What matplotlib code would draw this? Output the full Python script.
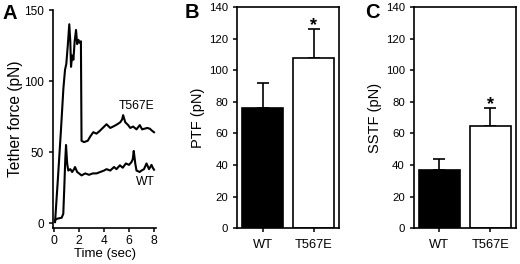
import matplotlib
matplotlib.use("Agg")
import matplotlib.pyplot as plt

plt.rcParams['font.family'] = ['Liberation Sans', 'DejaVu Sans']

# panel A traces (time in sec, force in pN)
t_t567e = [0.08, 0.3, 0.55, 0.75, 0.88, 0.98, 1.1, 1.22, 1.3, 1.36, 1.45, 1.55, 1.65, 1.76, 1.85,
           1.95, 2.05, 2.15, 2.2, 2.4, 2.7, 2.9, 3.14, 3.4, 3.67, 3.9, 4.2, 4.5, 4.73, 4.95, 5.13,
           5.3, 5.45, 5.53, 5.7, 5.93, 6.1, 6.33, 6.6, 6.86, 7.05, 7.26, 7.45, 7.66, 7.85, 8.0]
f_t567e = [0.7, 30, 65, 95, 108, 112, 125, 140, 128, 110, 118, 115, 128, 136, 126,
           129, 127, 128, 58, 57, 58, 61, 64, 63, 65, 67, 69.6, 67, 68, 69, 70,
           71, 73, 76, 71, 69, 67, 68, 66, 69, 66, 66.5, 67, 66.5, 65, 64]
t_wt = [0.08, 0.21, 0.45, 0.61, 0.74, 0.82, 0.9, 0.96, 1.05, 1.14, 1.3, 1.45, 1.6, 1.68, 1.85,
        2.0, 2.2, 2.5, 2.8, 3.1, 3.4, 3.7, 4.0, 4.2, 4.5, 4.8, 5.0, 5.27, 5.5, 5.75, 6.0,
        6.2, 6.3, 6.38, 6.5, 6.6, 6.85, 7.0, 7.2, 7.4, 7.6, 7.8, 7.9, 8.0]
f_wt = [2, 3, 3.5, 3.8, 6.6, 25, 45, 55, 42, 37, 38, 36, 38, 39.5, 36,
        35, 33.6, 35, 34, 35, 35, 36, 37, 38, 37, 39.5, 38, 40.7, 39, 42, 41,
        43, 45, 50.8, 42, 37, 36, 37, 38, 42, 38, 41, 39, 37.6]

groups = ["WT", "T567E"]
ptf_mean = [76, 108]
ptf_err = [16, 18]
sstf_mean = [37, 65]
sstf_err = [7, 11]

fig = plt.figure(figsize=(5.2, 2.64), dpi=100)

axA = fig.add_axes([0.102, 0.136, 0.198, 0.826])
axA.plot(t_t567e, f_t567e, color='black', lw=1.5)
axA.plot(t_wt, f_wt, color='black', lw=1.5)
axA.set_xlim(-0.08, 8.16)
axA.set_ylim(-3.5, 150)
axA.set_xticks([0, 2, 4, 6, 8])
axA.set_yticks([0, 50, 100, 150])
axA.spines['top'].set_visible(False)
axA.spines['right'].set_visible(False)
axA.tick_params(axis='x', labelsize=8.7, pad=2)
axA.tick_params(axis='y', labelsize=8.5)
axA.text(6.6, 78, "T567E", ha='center', va='bottom', fontsize=8.7)
axA.text(7.3, 29, "WT", ha='center', va='center', fontsize=8.7)
axA.set_xlabel("Time (sec)", fontsize=9.5, labelpad=1)
axA.set_ylabel("Tether force (pN)", fontsize=11.2, labelpad=1)


def bar_panel(ax, means, errs, label):
    x = range(len(groups))
    ax.bar(x, means, width=0.8, color=['black', 'white'], edgecolor='black', lw=1.2, zorder=2)
    ax.errorbar(x, means, yerr=[[0, 0], errs], fmt='none', ecolor='black',
                elinewidth=1.2, capsize=4, capthick=1.2, zorder=1)
    ax.text(1, means[1] + errs[1] - 3, "*", ha='center', va='bottom', fontsize=13, fontweight='bold')
    ax.set_xlim(-0.5, 1.5)
    ax.set_ylim(0, 140)
    ax.set_yticks(range(0, 141, 20))
    ax.set_xticks(list(x))
    ax.set_xticklabels(groups)
    ax.tick_params(axis='x', length=0, pad=5, labelsize=9.3)
    ax.tick_params(axis='y', labelsize=8.2)
    ax.set_ylabel(label, fontsize=10.5, labelpad=3)


axB = fig.add_axes([0.456, 0.136, 0.196, 0.837])
bar_panel(axB, ptf_mean, ptf_err, "PTF (pN)")
axC = fig.add_axes([0.796, 0.136, 0.196, 0.837])
bar_panel(axC, sstf_mean, sstf_err, "SSTF (pN)")

for ax in (axA, axB, axC):
    ax.tick_params(width=1.1, length=3, direction='out')
    for s in ax.spines.values():
        s.set_linewidth(1.2)

fig.text(0.004, 0.985, "A", fontsize=14.5, fontweight='bold', va='top')
fig.text(0.355, 0.99, "B", fontsize=14.5, fontweight='bold', va='top')
fig.text(0.703, 0.99, "C", fontsize=14.5, fontweight='bold', va='top')

fig.savefig("out.png", dpi=100)
